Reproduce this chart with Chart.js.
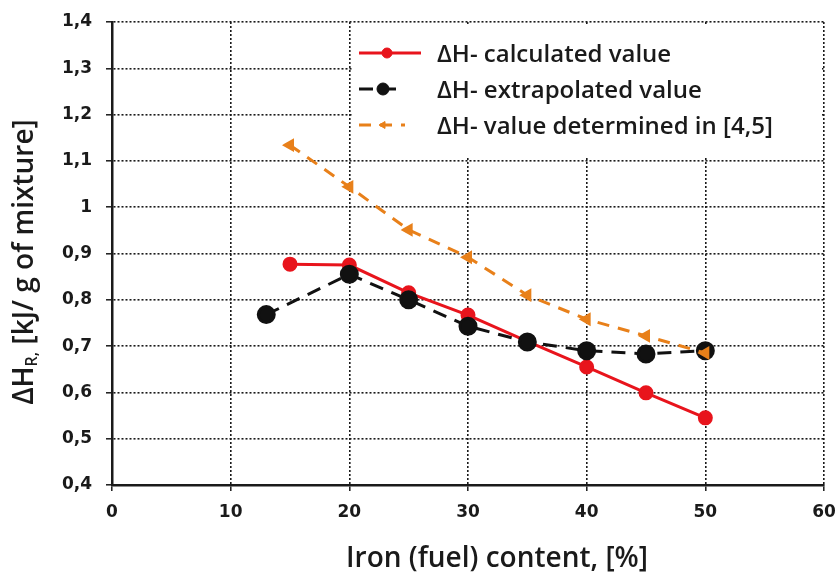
<!DOCTYPE html>
<html><head><meta charset="utf-8">
<script src="https://cdn.jsdelivr.net/npm/chart.js@4"></script>
<style>html,body{margin:0;padding:0;background:#fff}</style>
</head><body><canvas id="c" width="839" height="573"></canvas>
<script>
const calcX=[15,20,25,30,35,40,45,50];
const calcY=[0.877,0.875,0.815,0.767,0.71,0.655,0.599,0.545];
const extrX=[13,20,25,30,35,40,45,50];
const extrY=[0.768,0.855,0.80,0.743,0.709,0.69,0.683,0.69];
const detX=[15,20,25,30,35,40,45,50];
const detY=[1.134,1.044,0.951,0.892,0.81,0.758,0.722,0.685];
const seriesNames=['ΔH- calculated value','ΔH- extrapolated value','ΔH- value determined in [4,5]'];
const xTitle='Iron (fuel) content, [%]';
const yTitleMain='ΔH', yTitleSub='R,', yTitleRest=' [kJ/ g of mixture]';

const RED='#e8141c', BLACK='#111111', ORANGE='#e8801a', TXT='#1a1a1a';
const pts=(xs,ys)=>xs.map((x,i)=>({x:x,y:ys[i]}));

const legendPlugin={
  id:'insideLegend',
  beforeDatasetsDraw(chart){
    const ctx=chart.ctx, a=chart.chartArea;
    ctx.save();
    ctx.fillStyle='#fff';
    ctx.fillRect(352,a.top+2,a.right-2-352,158-(a.top+2));
    ctx.restore();
  },
  afterDatasetsDraw(chart){
    const ctx=chart.ctx;
    const ds=chart.data.datasets;
    const rows=[53,89,125];
    ctx.save();
    ds.forEach((d,i)=>{
      const y=rows[i];
      ctx.strokeStyle=d.borderColor;
      ctx.lineWidth=d.borderWidth;
      ctx.setLineDash(d.borderDash||[]);
      ctx.beginPath();ctx.moveTo(359,y);ctx.lineTo(i===0?421:405,y);ctx.stroke();
      ctx.setLineDash([]);
      ctx.fillStyle=d.pointBackgroundColor;
      ctx.strokeStyle=d.pointBackgroundColor;
      ctx.lineWidth=1;
      Chart.helpers.drawPoint(ctx,{pointStyle:d.pointStyle,rotation:d.pointRotation||0,radius:i===0?5:(i===1?6:4),borderWidth:1},i===0?387:383,y);
      ctx.fillStyle=TXT;
      ctx.font='600 24px "Open Sans"';
      ctx.textBaseline='alphabetic';
      ctx.textAlign='left';
      ctx.fillText(seriesNames[i],437,y+9);
    });
    ctx.restore();
  },
  afterDraw(chart){
    const ctx=chart.ctx, a=chart.chartArea;
    ctx.save();
    // y title
    const f1='600 28px "Open Sans"', f2='600 16px "Open Sans"';
    ctx.font=f1; const w1=ctx.measureText(yTitleMain).width, w3=ctx.measureText(yTitleRest).width;
    ctx.font=f2; const w2=ctx.measureText(yTitleSub).width;
    const total=w1+w2+w3;
    ctx.translate(33,262);
    ctx.rotate(-Math.PI/2);
    ctx.fillStyle=TXT;
    ctx.textBaseline='alphabetic';ctx.textAlign='left';
    let x=-total/2;
    ctx.font=f1;ctx.fillText(yTitleMain,x,0);x+=w1;
    ctx.font=f2;ctx.fillText(yTitleSub,x,4);x+=w2;
    ctx.font=f1;ctx.fillText(yTitleRest,x,0);
    ctx.restore();
    // x title
    ctx.save();
    ctx.font='600 28px "Open Sans"';
    ctx.fillStyle=TXT;ctx.textAlign='center';ctx.textBaseline='alphabetic';
    ctx.fillText(xTitle,497,567);
    ctx.restore();
  }
};

const gridOpts={color:'#1a1a1a',lineWidth:1.6,tickLength:6,tickBorderDash:[],tickColor:'#1a1a1a',tickWidth:1.5};
const borderOpts={display:true,color:'#1a1a1a',width:2.5,dash:[2,2]};
const tickFont={family:'"DejaVu Sans"',weight:'bold',size:17};
new Chart(document.getElementById('c'),{
  type:'line',
  data:{datasets:[
    {label:seriesNames[0],data:pts(calcX,calcY),borderColor:RED,backgroundColor:RED,pointBackgroundColor:RED,pointBorderColor:RED,borderWidth:3,pointRadius:6,pointStyle:'circle',order:2},
    {label:seriesNames[1],data:pts(extrX,extrY),borderColor:BLACK,backgroundColor:BLACK,pointBackgroundColor:BLACK,pointBorderColor:BLACK,borderWidth:3,borderDash:[14,9],pointRadius:8,pointStyle:'circle',order:1},
    {label:seriesNames[2],data:pts(detX,detY),borderColor:ORANGE,backgroundColor:ORANGE,pointBackgroundColor:ORANGE,pointBorderColor:ORANGE,borderWidth:3,borderDash:[12,9],pointRadius:5,pointStyle:'triangle',pointRotation:-90,rotation:-90,order:0}
  ]},
  options:{
    responsive:false,devicePixelRatio:1,animation:false,
    layout:{padding:{top:22,right:15,left:0,bottom:0}},
    plugins:{legend:{display:false},tooltip:{enabled:false}},
    elements:{line:{tension:0},point:{borderWidth:1}},
    scales:{
      x:{type:'linear',min:0,max:60,
        afterFit(s){s.height=88;s.paddingRight=0;s.paddingLeft=0;},
        ticks:{stepSize:10,padding:11,color:TXT,font:tickFont,maxRotation:0},
        grid:gridOpts,
        border:borderOpts
      },
      y:{type:'linear',min:0.4,max:1.4,
        afterFit(s){s.width=112;s.paddingTop=0;s.paddingBottom=0;},
        ticks:{stepSize:0.1,padding:14,color:TXT,font:tickFont,
          callback(v){const r=Math.round(v*10)/10; return r===1?'1':r.toFixed(1).replace('.',',');}},
        grid:gridOpts,
        border:borderOpts
      }
    }
  },
  plugins:[legendPlugin]
});
</script></body></html>
